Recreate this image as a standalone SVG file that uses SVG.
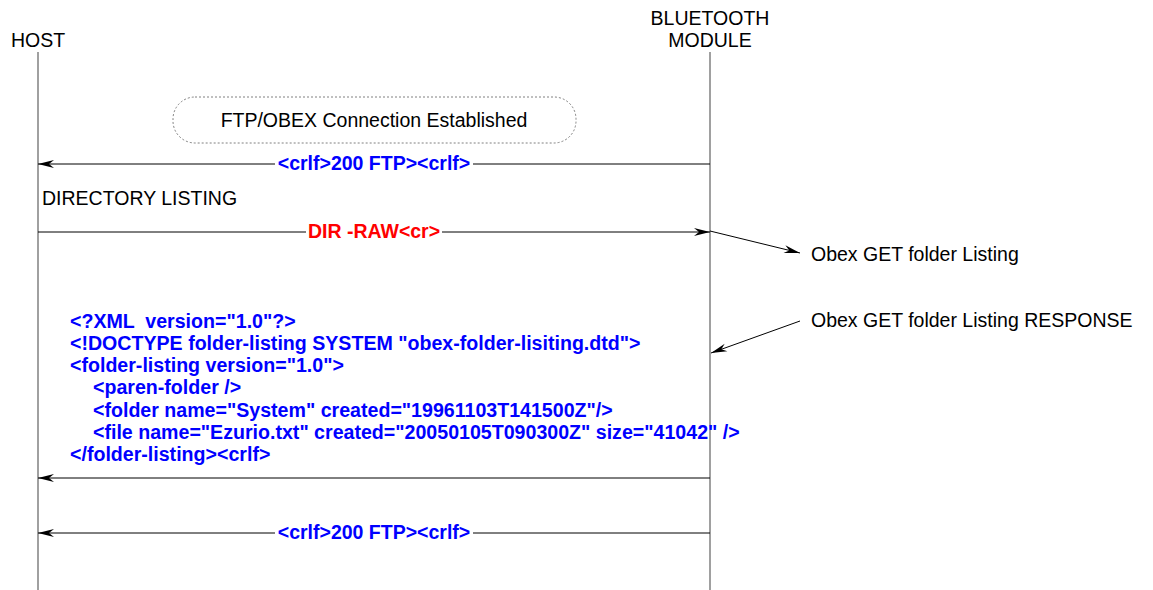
<svg xmlns="http://www.w3.org/2000/svg" width="1153" height="590" viewBox="0 0 1153 590">
<style>
  text { font-family: "Liberation Sans", Arial, sans-serif; font-size: 19.5px; white-space: pre; }
  .lbl { fill: #000; }
  .blue { fill: #0000ff; font-weight: bold; }
  .xml { font-size: 19.6px; }
  .red { fill: #ff0000; font-weight: bold; }
  .life { stroke: #808080; stroke-width: 1.5; fill: none; }
  .msg { stroke: #000; stroke-width: 1; fill: none; marker-end: url(#ah); }
  .note { stroke: #000; stroke-width: 1; fill: none; marker-end: url(#ah); }
</style>
<defs>
  <marker id="ah" markerUnits="userSpaceOnUse" viewBox="-17 -5 18 10" markerWidth="18" markerHeight="10" refX="0" refY="0" orient="auto">
    <path d="M0,0 L-16,-4 L-11,0 L-16,4 Z" fill="#000"/>
  </marker>
</defs>
<rect width="1153" height="590" fill="#fff"/>

<g id="host">
  <text class="lbl" x="38" y="47" text-anchor="middle">HOST</text>
  <line class="life" x1="38" y1="52" x2="38" y2="590"/>
</g>
<g id="bluetooth-module">
  <text class="lbl" x="710" y="25" text-anchor="middle">BLUETOOTH</text>
  <text class="lbl" x="710" y="47" text-anchor="middle">MODULE</text>
  <line class="life" x1="710" y1="52" x2="710" y2="590"/>
</g>
<g id="connection-established">
  <rect x="173" y="97" width="403" height="46" rx="22" ry="22" fill="none" stroke="#808080" stroke-width="1" stroke-dasharray="2,2"/>
  <text class="lbl" x="374" y="127" text-anchor="middle">FTP/OBEX Connection Established</text>
</g>
<g id="directory-listing">
  <text class="lbl" x="42" y="205">DIRECTORY LISTING</text>
</g>
<g id="xml-response">
  <text class="blue xml" x="70" y="328">&lt;?XML  version="1.0"?&gt;</text>
  <text class="blue xml" x="70" y="350">&lt;!DOCTYPE folder-listing SYSTEM "obex-folder-lisiting.dtd"&gt;</text>
  <text class="blue xml" x="70" y="372">&lt;folder-listing version="1.0"&gt;</text>
  <text class="blue xml" x="93" y="394">&lt;paren-folder /&gt;</text>
  <text class="blue xml" x="93" y="417">&lt;folder name="System" created="19961103T141500Z"/&gt;</text>
  <text class="blue xml" x="93" y="439">&lt;file name="Ezurio.txt" created="20050105T090300Z" size="41042" /&gt;</text>
  <text class="blue xml" x="70" y="461">&lt;/folder-listing&gt;&lt;crlf&gt;</text>
</g>
<g id="note-get">
  <text class="lbl" x="811" y="261">Obex GET folder Listing</text>
</g>
<g id="note-response">
  <text class="lbl" x="811" y="327">Obex GET folder Listing RESPONSE</text>
</g>

<g id="connectors">
  <path class="msg" d="M710,164 H473 M275,164 H38"/>
  <text class="blue" x="374" y="170" text-anchor="middle">&lt;crlf&gt;200 FTP&gt;&lt;crlf&gt;</text>
  <path class="msg" d="M38,232 H306 M442,232 H710"/>
  <text class="red" x="374" y="238" text-anchor="middle">DIR -RAW&lt;cr&gt;</text>
  <path class="note" d="M710,231 L800,253"/>
  <path class="note" d="M800,321 L711,353"/>
  <path class="msg" d="M710,478 H38"/>
  <path class="msg" d="M710,533 H473 M275,533 H38"/>
  <text class="blue" x="374" y="539" text-anchor="middle">&lt;crlf&gt;200 FTP&gt;&lt;crlf&gt;</text>
</g>
</svg>
